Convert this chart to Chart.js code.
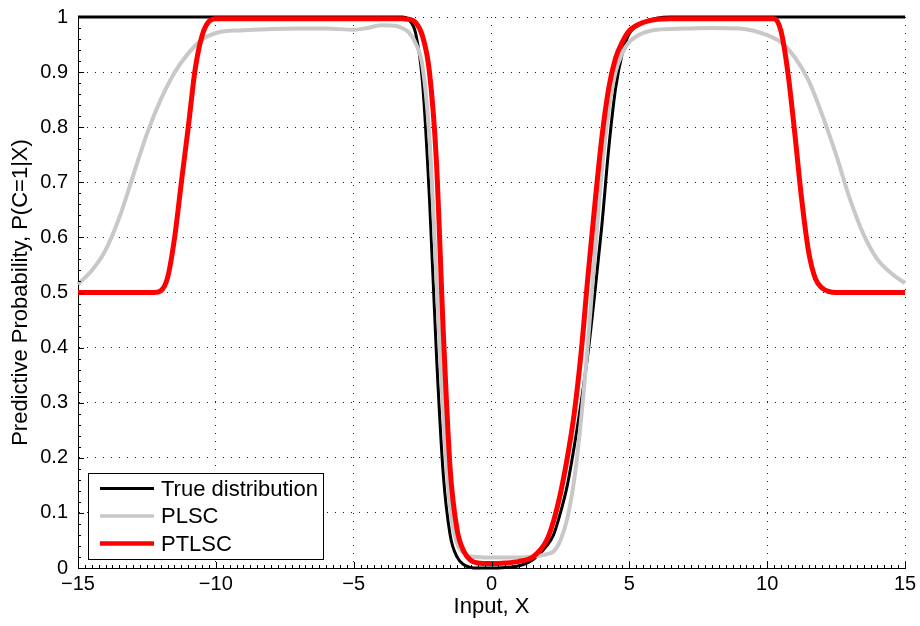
<!DOCTYPE html>
<html><head><meta charset="utf-8">
<script src="https://cdn.jsdelivr.net/npm/chart.js@4.4.0/dist/chart.umd.min.js"></script>
<style>html,body{margin:0;padding:0;background:#fff;overflow:hidden}#wrap{width:920px;height:626px}</style>
</head><body><div id="wrap"><canvas id="c" width="920" height="626"></canvas></div>
<script>
const seriesNames = ['True distribution', 'PLSC', 'PTLSC'];
const xTitle = 'Input, X';
const yTitle = 'Predictive Probability, P(C=1|X)';

const trueX = [-15, -3.25, -3.0, -2.75, -2.5, -2.25, -2.0, -1.75, -1.5, -1.25, -1.0, -0.75, -0.5, 0, 0.5, 1.0, 1.5, 2.0, 2.25, 2.5, 2.75, 3.0, 3.25, 3.5, 3.75, 4.0, 4.25, 4.5, 4.75, 5.0, 5.5, 6.0, 6.5, 15];
const trueY = [1, 1, 0.995, 0.97, 0.88, 0.67, 0.39, 0.17, 0.06, 0.02, 0.006, 0.001, 0, 0, 0.001, 0.004, 0.015, 0.04, 0.06, 0.10, 0.15, 0.22, 0.30, 0.39, 0.50, 0.62, 0.76, 0.87, 0.935, 0.97, 0.99, 0.998, 1, 1];

const plscX = [-15, -14.5, -14, -13.5, -13, -12.5, -12, -11.5, -11, -10.5, -10, -9, -8, -7, -6, -5, -4.5, -4, -3.5, -3.25, -3.0, -2.75, -2.5, -2.25, -2.0, -1.75, -1.5, -1.25, -1.0, -0.75, -0.5, 0, 0.5, 1.0, 1.5, 2.0, 2.25, 2.5, 2.75, 3.0, 3.25, 3.5, 3.75, 4.0, 4.25, 4.5, 4.75, 5.0, 5.5, 6.0, 7, 8, 9, 10, 10.5, 11, 11.5, 12, 12.5, 13, 13.5, 14, 14.5, 15];
const plscY = [0.515, 0.54, 0.577, 0.636, 0.712, 0.788, 0.85, 0.899, 0.934, 0.959, 0.971, 0.976, 0.978, 0.979, 0.979, 0.977, 0.98, 0.985, 0.984, 0.98, 0.972, 0.952, 0.91, 0.78, 0.53, 0.28, 0.11, 0.045, 0.027, 0.021, 0.02, 0.019, 0.019, 0.019, 0.021, 0.025, 0.03, 0.05, 0.09, 0.16, 0.27, 0.41, 0.57, 0.72, 0.83, 0.90, 0.935, 0.955, 0.971, 0.977, 0.979, 0.98, 0.979, 0.967, 0.954, 0.927, 0.885, 0.822, 0.75, 0.67, 0.605, 0.56, 0.535, 0.517];

const ptlscX = [-15, -12.25, -12, -11.75, -11.5, -11.25, -11, -10.75, -10.5, -10.25, -10, -3.25, -3.0, -2.75, -2.5, -2.25, -2.0, -1.75, -1.5, -1.25, -1.0, -0.75, -0.5, 0, 0.5, 1.0, 1.5, 2.0, 2.25, 2.5, 2.75, 3.0, 3.25, 3.5, 3.75, 4.0, 4.25, 4.5, 4.75, 5.0, 5.5, 6.0, 6.5, 10.25, 10.5, 10.75, 11.0, 11.25, 11.5, 11.75, 12.0, 12.5, 15];
const ptlscY = [0.5, 0.5, 0.503, 0.527, 0.598, 0.70, 0.80, 0.905, 0.966, 0.992, 0.997, 0.997, 0.996, 0.99, 0.965, 0.90, 0.74, 0.43, 0.18, 0.07, 0.03, 0.014, 0.009, 0.008, 0.009, 0.012, 0.02, 0.05, 0.085, 0.135, 0.20, 0.28, 0.39, 0.53, 0.66, 0.78, 0.87, 0.925, 0.955, 0.975, 0.99, 0.996, 0.997, 0.997, 0.975, 0.90, 0.79, 0.67, 0.575, 0.525, 0.508, 0.5, 0.5];

const xRange = [-15, 15];
const yRange = [0, 1];
const xMajorStep = 5, xMinorStep = 0.25;
const yMajorStep = 0.1, yMinorStep = 0.02;

const FONT = '"Liberation Sans", Arial, Helvetica, sans-serif';
const toPts = (xs, ys) => xs.map((x, i) => ({x: x, y: ys[i]}));
const fmtNum = v => { const r = Math.round(v * 100) / 100; return r < 0 ? '\u2212' + Math.abs(r) : String(r); };

const innerTicks = {
  id: 'innerTicks',
  afterDatasetsDraw(chart) {
    const {ctx, chartArea: a, scales: {x, y}} = chart;
    ctx.save();
    ctx.strokeStyle = '#000';
    ctx.lineWidth = 1;
    ctx.beginPath();
    const nx = Math.round((xRange[1] - xRange[0]) / xMinorStep);
    const perX = Math.round(xMajorStep / xMinorStep);
    for (let i = 0; i <= nx; i++) {
      const px = Math.round(x.getPixelForValue(xRange[0] + i * xMinorStep)) + 0.5;
      const len = (i % perX === 0) ? 6 : 3;
      ctx.moveTo(px, a.bottom);
      ctx.lineTo(px, a.bottom - len);
    }
    const ny = Math.round((yRange[1] - yRange[0]) / yMinorStep);
    const perY = Math.round(yMajorStep / yMinorStep);
    for (let i = 0; i <= ny; i++) {
      const py = Math.round(y.getPixelForValue(yRange[0] + i * yMinorStep)) + 0.5;
      const len = (i % perY === 0) ? 6 : 3;
      ctx.moveTo(a.left, py);
      ctx.lineTo(a.left + len, py);
    }
    ctx.stroke();
    ctx.restore();
  }
};

const boxLegend = {
  id: 'boxLegend',
  afterDraw(chart) {
    const {ctx, chartArea: a} = chart;
    const ds = chart.data.datasets;
    const w = 235, h = 86, rowH = 27.5;
    const left = Math.round(a.left + 10), top = Math.round(a.bottom - 9 - h);
    ctx.save();
    ctx.fillStyle = '#fff';
    ctx.fillRect(left, top, w, h);
    ctx.strokeStyle = '#000';
    ctx.lineWidth = 1;
    ctx.strokeRect(left + 0.5, top + 0.5, w, h);
    ctx.font = '22px ' + FONT;
    ctx.textBaseline = 'middle';
    ds.forEach((d, i) => {
      const cy = top + 15.5 + i * rowH;
      ctx.strokeStyle = d.borderColor;
      ctx.lineWidth = d.legendLineWidth;
      ctx.beginPath();
      ctx.moveTo(left + 12, cy);
      ctx.lineTo(left + 66, cy);
      ctx.stroke();
      ctx.fillStyle = '#000';
      ctx.fillText(d.label, left + 73, cy + 1);
    });
    ctx.restore();
  }
};

new Chart(document.getElementById('c'), {
  type: 'line',
  data: {
    datasets: [
      {label: seriesNames[0], data: toPts(trueX, trueY), borderColor: '#000000', borderWidth: 3, legendLineWidth: 3, order: 3},
      {label: seriesNames[1], data: toPts(plscX, plscY), borderColor: '#c8c8c8', borderWidth: 4, legendLineWidth: 3.5, order: 2},
      {label: seriesNames[2], data: toPts(ptlscX, ptlscY), borderColor: '#ff0000', borderWidth: 5, legendLineWidth: 4.5, order: 1}
    ]
  },
  options: {
    responsive: false,
    animation: false,
    devicePixelRatio: 1,
    layout: {autoPadding: false, padding: {top: 17, right: 15, left: 0, bottom: 0}},
    elements: {
      point: {radius: 0, hoverRadius: 0},
      line: {cubicInterpolationMode: 'monotone', fill: false, borderCapStyle: 'butt', borderJoinStyle: 'round'}
    },
    datasets: {line: {clip: false}},
    plugins: {legend: {display: false}, tooltip: {enabled: false}},
    scales: {
      x: {
        type: 'linear', position: 'bottom', min: xRange[0], max: xRange[1],
        afterFit: s => { s.height = 58; s.paddingLeft = 0; s.paddingRight = 0; },
        ticks: {stepSize: xMajorStep, autoSkip: false, maxRotation: 0, padding: 4, color: '#000', font: {family: FONT, size: 20}, callback: v => fmtNum(v)},
        grid: {drawTicks: false, lineWidth: 1, color: c => (c.tick && c.tick.value === xRange[0]) ? 'rgba(0,0,0,0)' : '#222'},
        border: {display: true, color: '#000', width: 1, dash: [1, 7]},
        title: {display: true, text: xTitle, color: '#000', font: {family: FONT, size: 22}, padding: {top: 0, bottom: 6}}
      },
      y: {
        type: 'linear', position: 'left', min: yRange[0], max: yRange[1],
        afterFit: s => { s.width = 78; s.paddingTop = 0; s.paddingBottom = 0; },
        ticks: {stepSize: yMajorStep, autoSkip: false, padding: 10, color: '#000', font: {family: FONT, size: 20}, callback: v => fmtNum(v)},
        grid: {drawTicks: false, lineWidth: 1, color: c => (c.tick && c.tick.value === yRange[0]) ? 'rgba(0,0,0,0)' : '#222'},
        border: {display: true, color: '#000', width: 1, dash: [1, 7]},
        title: {display: true, text: yTitle, color: '#000', font: {family: FONT, size: 22}, padding: {top: 8, bottom: 0}}
      }
    }
  },
  plugins: [innerTicks, boxLegend]
});
</script>
</body></html>
